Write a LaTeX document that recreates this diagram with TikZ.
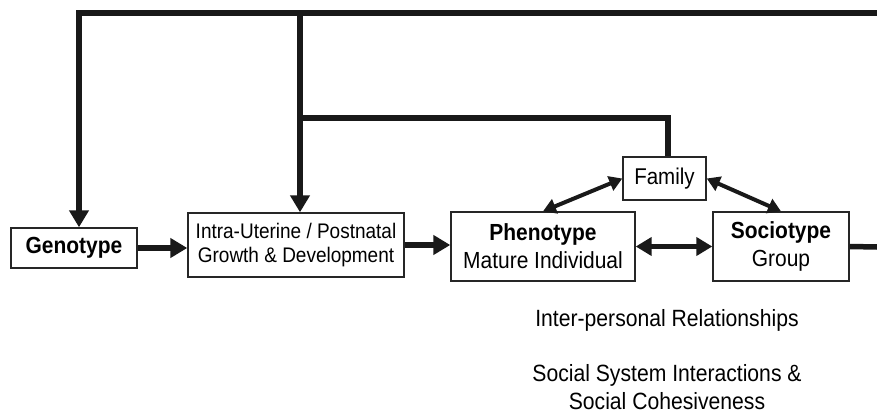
\documentclass[tikz,border=0pt]{standalone}
\usepackage{fontspec}
\setmainfont{Liberation Sans}[FakeStretch=0.9]
\usetikzlibrary{arrows.meta}
\begin{document}
\begin{tikzpicture}[x=1pt,y=-1pt]
  \tikzstyle{box}=[draw=black!85, line width=1.4pt, inner sep=0pt, align=center, font=\fontsize{23.3}{28}\selectfont]
  \tikzstyle{link}=[line width=5.5pt, draw=black!90]
  \tikzstyle{flow}=[link, -{Triangle[length=17pt,width=19pt]}]
  \tikzstyle{both}=[link, {Triangle[length=16pt,width=18pt]}-{Triangle[length=16pt,width=18pt]}]
  \tikzstyle{tie}=[line width=4pt, draw=black!90, {Triangle[length=13pt,width=15pt]}-{Triangle[length=13pt,width=15pt]}]
  \tikzstyle{note}=[align=center, font=\fontsize{23.5}{28}\selectfont]
  \useasboundingbox (0,0) rectangle (877,414);
  % boxes
  \node[box, minimum width=126pt, minimum height=40pt] (genotype) at (74,248) {\textbf{Genotype}};
  \node[box, minimum width=216pt, minimum height=64pt, font=\fontsize{21.1}{24.5}\selectfont] (growth) at (296,245) {Intra-Uterine / Postnatal\\Growth \& Development};
  \node[box, minimum width=184pt, minimum height=69pt] (phenotype) at (543,246.5) {\textbf{Phenotype}\\Mature Individual};
  \node[box, minimum width=136pt, minimum height=69pt] (sociotype) at (781,246.5) {\textbf{Sociotype}\\Group};
  \node[box, minimum width=83pt, minimum height=43pt, font=\fontsize{22.8}{26}\selectfont] (family) at (664.5,178.5) {Family};
  % texts below
  \node[note] (relations) at (667,320) {Inter-personal Relationships};
  \node[note] (cohesion) at (667,387) {Social System Interactions \&\\Social Cohesiveness};
  % free ends and knees
  \coordinate (topright) at (877,13);
  \coordinate (corner) at (79,13);
  \coordinate (split) at (300,13);
  \coordinate (famknee) at (300,118);
  \coordinate (rightend) at (877,247);
  % connectors
  \draw[flow] (genotype.east) -- (genotype.east -| growth.west);
  \draw[flow] (growth.east) -- (growth.east -| phenotype.west);
  \draw[both] (phenotype.east) -- (sociotype.west);
  \draw[tie] (family.west) -- (phenotype.north);
  \draw[tie] (family.east) -- (sociotype.north);
  \draw[link] (sociotype.east) -- (rightend);
  \draw[flow] (topright) -- (corner) -- (corner |- genotype.north);
  \draw[flow] (split) -- (split |- growth.north);
  \draw[link] ([xshift=3.5pt]family.north) |- (famknee);
\end{tikzpicture}
\end{document}
